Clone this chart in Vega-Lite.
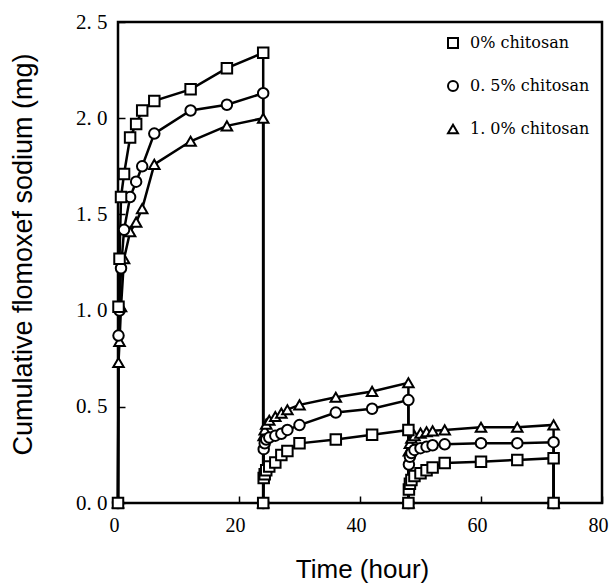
{
"$schema": "https://vega.github.io/schema/vega-lite/v6.json",
"width": 484, "height": 481,
"autosize": {"type": "none"},
"padding": {"left": 118, "top": 22, "right": 8, "bottom": 82},
"background": "white",
"data": {"values": [
{"s":"1.0% chitosan","i":0,"t":0,"v":0},{"s":"1.0% chitosan","i":1,"t":0.083,"v":0.73},{"s":"1.0% chitosan","i":2,"t":0.25,"v":0.84},{"s":"1.0% chitosan","i":3,"t":0.5,"v":1.02},{"s":"1.0% chitosan","i":4,"t":1,"v":1.27},{"s":"1.0% chitosan","i":5,"t":2,"v":1.41},{"s":"1.0% chitosan","i":6,"t":3,"v":1.46},{"s":"1.0% chitosan","i":7,"t":4,"v":1.53},{"s":"1.0% chitosan","i":8,"t":6,"v":1.76},{"s":"1.0% chitosan","i":9,"t":12,"v":1.88},{"s":"1.0% chitosan","i":10,"t":18,"v":1.96},{"s":"1.0% chitosan","i":11,"t":24,"v":2.0},{"s":"1.0% chitosan","i":12,"t":24,"v":0},{"s":"1.0% chitosan","i":13,"t":24.083,"v":0.35},{"s":"1.0% chitosan","i":14,"t":24.25,"v":0.38},{"s":"1.0% chitosan","i":15,"t":24.5,"v":0.41},{"s":"1.0% chitosan","i":16,"t":25,"v":0.43},{"s":"1.0% chitosan","i":17,"t":26,"v":0.45},{"s":"1.0% chitosan","i":18,"t":27,"v":0.467},{"s":"1.0% chitosan","i":19,"t":28,"v":0.485},{"s":"1.0% chitosan","i":20,"t":30,"v":0.51},{"s":"1.0% chitosan","i":21,"t":36,"v":0.55},{"s":"1.0% chitosan","i":22,"t":42,"v":0.58},{"s":"1.0% chitosan","i":23,"t":48,"v":0.625},{"s":"1.0% chitosan","i":24,"t":48,"v":0},{"s":"1.0% chitosan","i":25,"t":48.083,"v":0.27},{"s":"1.0% chitosan","i":26,"t":48.25,"v":0.31},{"s":"1.0% chitosan","i":27,"t":48.5,"v":0.337},{"s":"1.0% chitosan","i":28,"t":49,"v":0.35},{"s":"1.0% chitosan","i":29,"t":50,"v":0.363},{"s":"1.0% chitosan","i":30,"t":51,"v":0.37},{"s":"1.0% chitosan","i":31,"t":52,"v":0.375},{"s":"1.0% chitosan","i":32,"t":54,"v":0.38},{"s":"1.0% chitosan","i":33,"t":60,"v":0.394},{"s":"1.0% chitosan","i":34,"t":66,"v":0.394},{"s":"1.0% chitosan","i":35,"t":72,"v":0.406},{"s":"1.0% chitosan","i":36,"t":72,"v":0},
{"s":"0.5% chitosan","i":0,"t":0,"v":0},{"s":"0.5% chitosan","i":1,"t":0.083,"v":0.87},{"s":"0.5% chitosan","i":2,"t":0.25,"v":1.0},{"s":"0.5% chitosan","i":3,"t":0.5,"v":1.22},{"s":"0.5% chitosan","i":4,"t":1,"v":1.42},{"s":"0.5% chitosan","i":5,"t":2,"v":1.59},{"s":"0.5% chitosan","i":6,"t":3,"v":1.67},{"s":"0.5% chitosan","i":7,"t":4,"v":1.75},{"s":"0.5% chitosan","i":8,"t":6,"v":1.92},{"s":"0.5% chitosan","i":9,"t":12,"v":2.04},{"s":"0.5% chitosan","i":10,"t":18,"v":2.07},{"s":"0.5% chitosan","i":11,"t":24,"v":2.13},{"s":"0.5% chitosan","i":12,"t":24,"v":0},{"s":"0.5% chitosan","i":13,"t":24.083,"v":0.28},{"s":"0.5% chitosan","i":14,"t":24.25,"v":0.31},{"s":"0.5% chitosan","i":15,"t":24.5,"v":0.33},{"s":"0.5% chitosan","i":16,"t":25,"v":0.34},{"s":"0.5% chitosan","i":17,"t":26,"v":0.35},{"s":"0.5% chitosan","i":18,"t":27,"v":0.36},{"s":"0.5% chitosan","i":19,"t":28,"v":0.38},{"s":"0.5% chitosan","i":20,"t":30,"v":0.405},{"s":"0.5% chitosan","i":21,"t":36,"v":0.47},{"s":"0.5% chitosan","i":22,"t":42,"v":0.49},{"s":"0.5% chitosan","i":23,"t":48,"v":0.535},{"s":"0.5% chitosan","i":24,"t":48,"v":0},{"s":"0.5% chitosan","i":25,"t":48.083,"v":0.2},{"s":"0.5% chitosan","i":26,"t":48.25,"v":0.24},{"s":"0.5% chitosan","i":27,"t":48.5,"v":0.26},{"s":"0.5% chitosan","i":28,"t":49,"v":0.276},{"s":"0.5% chitosan","i":29,"t":50,"v":0.285},{"s":"0.5% chitosan","i":30,"t":51,"v":0.293},{"s":"0.5% chitosan","i":31,"t":52,"v":0.3},{"s":"0.5% chitosan","i":32,"t":54,"v":0.305},{"s":"0.5% chitosan","i":33,"t":60,"v":0.311},{"s":"0.5% chitosan","i":34,"t":66,"v":0.311},{"s":"0.5% chitosan","i":35,"t":72,"v":0.316},{"s":"0.5% chitosan","i":36,"t":72,"v":0},
{"s":"0% chitosan","i":0,"t":0,"v":0},{"s":"0% chitosan","i":1,"t":0.083,"v":1.02},{"s":"0% chitosan","i":2,"t":0.25,"v":1.27},{"s":"0% chitosan","i":3,"t":0.5,"v":1.59},{"s":"0% chitosan","i":4,"t":1,"v":1.71},{"s":"0% chitosan","i":5,"t":2,"v":1.9},{"s":"0% chitosan","i":6,"t":3,"v":1.97},{"s":"0% chitosan","i":7,"t":4,"v":2.04},{"s":"0% chitosan","i":8,"t":6,"v":2.09},{"s":"0% chitosan","i":9,"t":12,"v":2.15},{"s":"0% chitosan","i":10,"t":18,"v":2.26},{"s":"0% chitosan","i":11,"t":24,"v":2.34},{"s":"0% chitosan","i":12,"t":24,"v":0},{"s":"0% chitosan","i":13,"t":24.083,"v":0.13},{"s":"0% chitosan","i":14,"t":24.25,"v":0.15},{"s":"0% chitosan","i":15,"t":24.5,"v":0.17},{"s":"0% chitosan","i":16,"t":25,"v":0.19},{"s":"0% chitosan","i":17,"t":26,"v":0.21},{"s":"0% chitosan","i":18,"t":27,"v":0.25},{"s":"0% chitosan","i":19,"t":28,"v":0.27},{"s":"0% chitosan","i":20,"t":30,"v":0.31},{"s":"0% chitosan","i":21,"t":36,"v":0.33},{"s":"0% chitosan","i":22,"t":42,"v":0.355},{"s":"0% chitosan","i":23,"t":48,"v":0.38},{"s":"0% chitosan","i":24,"t":48,"v":0},{"s":"0% chitosan","i":25,"t":48.083,"v":0.07},{"s":"0% chitosan","i":26,"t":48.25,"v":0.1},{"s":"0% chitosan","i":27,"t":48.5,"v":0.12},{"s":"0% chitosan","i":28,"t":49,"v":0.14},{"s":"0% chitosan","i":29,"t":50,"v":0.155},{"s":"0% chitosan","i":30,"t":51,"v":0.17},{"s":"0% chitosan","i":31,"t":52,"v":0.185},{"s":"0% chitosan","i":32,"t":54,"v":0.208},{"s":"0% chitosan","i":33,"t":60,"v":0.215},{"s":"0% chitosan","i":34,"t":66,"v":0.224},{"s":"0% chitosan","i":35,"t":72,"v":0.233},{"s":"0% chitosan","i":36,"t":72,"v":0}
]},
"encoding": {
  "x": {"field": "t", "type": "quantitative", "scale": {"domain": [0, 80], "nice": false},
    "axis": {"title": "Time (hour)", "values": [0, 20, 40, 60, 80], "grid": false, "domain": false,
      "tickSize": -7, "tickWidth": 1.5, "tickColor": "black",
      "labelFont": "Liberation Serif", "labelFontSize": 20, "labelColor": "black", "labelPadding": 19, "labelFlush": false, "labelOffset": -4,
      "titleFont": "Liberation Sans", "titleFontSize": 26, "titleFontWeight": "normal", "titleColor": "black",
      "titleX": 244, "titleY": 74, "titleBaseline": "alphabetic", "titleAlign": "center"}},
  "y": {"field": "v", "type": "quantitative", "scale": {"domain": [0, 2.5], "nice": false},
    "axis": {"title": "Cumulative flomoxef sodium (mg)", "values": [0, 0.5, 1, 1.5, 2, 2.5], "grid": false, "domain": false,
      "labelExpr": "replace(format(datum.value, '.1f'), '.', '. ')",
      "tickSize": -7, "tickWidth": 1.5, "tickColor": "black",
      "labelFont": "Liberation Serif", "labelFontSize": 21, "labelColor": "black", "labelPadding": 18,
      "titleFont": "Liberation Sans", "titleFontSize": 27, "titleFontWeight": "normal", "titleColor": "black",
      "titleX": -95, "titleY": 232, "titleAngle": 270, "titleBaseline": "middle", "titleAlign": "center"}}
},
"layer": [
  {"mark": {"type": "line", "stroke": "black", "strokeWidth": 2.5},
   "encoding": {"detail": {"field": "s", "type": "nominal"}, "order": {"field": "i", "type": "quantitative"}}},
  {"mark": {"type": "point", "filled": false, "fill": "white", "color": "black", "strokeWidth": 2, "size": 110, "opacity": 1},
   "encoding": {"shape": {"field": "s", "type": "nominal",
      "scale": {"domain": ["0% chitosan", "0.5% chitosan", "1.0% chitosan"], "range": ["square", "circle", "triangle-up"]},
      "legend": {"title": null, "orient": "none", "legendX": 327, "legendY": 13, "padding": 0,
        "labelFont": "DejaVu Serif", "labelFontSize": 16, "labelColor": "black", "labelOffset": 9,
        "labelExpr": "replace(datum.label, '.', '. ')",
        "symbolSize": 100, "symbolStrokeWidth": 2,
        "rowPadding": 25}}}}
],
"config": {"view": {"stroke": "black", "strokeWidth": 2.5}, "axis": {"domain": false}}
}
